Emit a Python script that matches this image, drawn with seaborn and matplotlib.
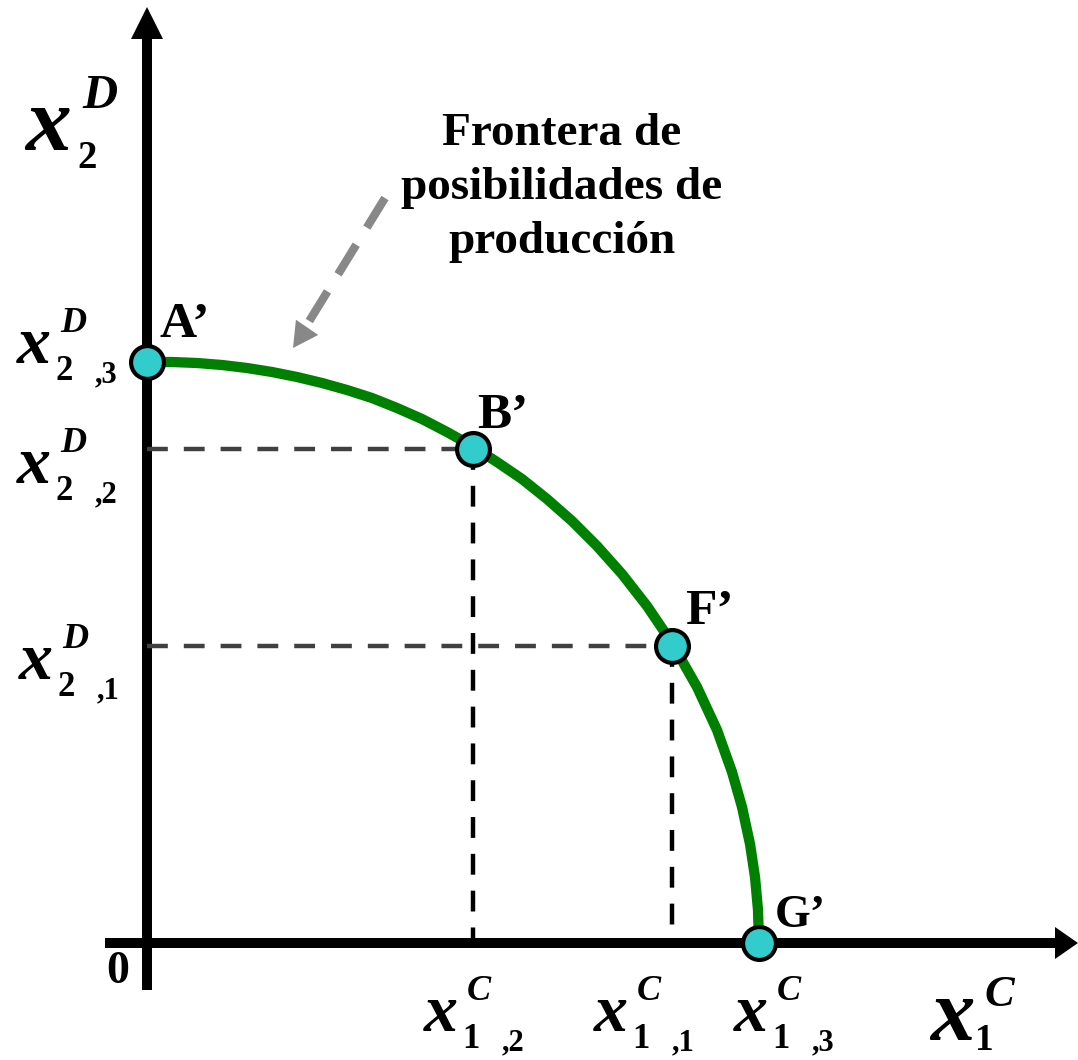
import pandas as pd
import seaborn as sns
import matplotlib.pyplot as plt

# frontier (1 unit = 100 px, origin at the axes corner)
frontier_x = [0.00, 0.25, 0.50, 0.75, 1.00, 1.25, 1.50, 1.75, 2.00, 2.25, 2.50, 2.75,
              3.00, 3.25, 3.50, 3.75, 4.00, 4.25, 4.50, 4.75, 5.00, 5.25, 5.50, 5.70,
              5.85, 5.95, 6.03, 6.08, 6.11, 6.12]
frontier_y = [5.81, 5.81, 5.80, 5.78, 5.75, 5.71, 5.66, 5.60, 5.53, 5.45, 5.35, 5.24,
              5.11, 4.97, 4.81, 4.64, 4.44, 4.22, 3.97, 3.69, 3.37, 3.00, 2.56, 2.13,
              1.71, 1.36, 0.99, 0.66, 0.33, 0.00]

point_names = ["A’", "B’", "F’", "G’"]
point_x = [0.00, 3.26, 5.25, 6.12]
point_y = [5.81, 4.94, 2.97, 0.00]

# dashed guides go from B' and F' to both axes
guide_names = ["B’", "F’"]
x_tick_index = [",2", ",1", ",3"]   # for B', F', G'
y_tick_index = [",3", ",2", ",1"]   # for A', B', F'

title = "Frontera de\nposibilidades de\nproducción"

PX = 0.72  # points per pixel at dpi 100
SERIF = "Liberation Serif"


def piece_label(ax, xy, off, pieces):
    # builds a sub/superscripted label out of separate bold pieces
    for text, dx, dy, size, style in pieces:
        ax.annotate(text, xy=xy, xytext=((off[0] + dx) * PX, (off[1] + dy) * PX),
                    textcoords="offset points", ha="left", va="baseline",
                    fontsize=size, fontweight="bold", fontstyle=style, color="black",
                    family=SERIF, annotation_clip=False, zorder=6)


def tick_pieces(sub, sup, idx):
    return [("x", 0, 0, 49, "italic"),
            (sup, 43, 31, 26, "italic"),
            (sub, 38, -17, 25, "normal"),
            (idx, 78, -19, 22, "normal")]


def main():
    sns.set_theme(style="white")
    plt.rcParams["lines.scale_dashes"] = False
    plt.rcParams["text.color"] = "black"

    fig = plt.figure(figsize=(10.78, 10.60), dpi=100)
    ax = fig.add_axes([0, 0, 1, 1])
    ax.set_xlim(-1.47, 9.31)
    ax.set_ylim(-1.17, 9.43)
    ax.axis("off")

    # axes with arrow heads
    ax.arrow(0, -0.47, 0, 9.83, width=0.10, head_width=0.32, head_length=0.32,
             length_includes_head=True, fc="black", ec="none", zorder=2)
    ax.arrow(-0.42, 0, 9.73, 0, width=0.10, head_width=0.32, head_length=0.23,
             length_includes_head=True, fc="black", ec="none", zorder=2)

    pts = pd.DataFrame({"name": point_names, "x": point_x, "y": point_y})

    # dashed guides
    for name in guide_names:
        row = pts[pts["name"] == name].iloc[0]
        ax.plot([0, row["x"]], [row["y"], row["y"]], color="#404040", lw=3.2,
                dashes=(15, 11.5), dash_capstyle="butt", zorder=3)
        ax.plot([row["x"], row["x"]], [row["y"], 0], color="black", lw=3.2,
                dashes=(15, 11.5), dash_capstyle="butt", zorder=3)

    frontier = pd.DataFrame({"x": frontier_x, "y": frontier_y})
    sns.lineplot(data=frontier, x="x", y="y", sort=False, estimator=None,
                 color="#008000", lw=7.4, solid_joinstyle="round",
                 solid_capstyle="butt", ax=ax, zorder=4)

    sns.scatterplot(data=pts, x="x", y="y", s=560, color="#33CCCC",
                    edgecolor="black", linewidth=3.0, ax=ax, zorder=5, legend=False)
    ax.axis("off")

    # point names
    name_off = [(13, 25), (4, 21), (13, 22), (16, 16)]
    name_size = [37, 37, 37, 33]
    for (_, row), off, size in zip(pts.iterrows(), name_off, name_size):
        ax.annotate(row["name"], xy=(row["x"], row["y"]),
                    xytext=(off[0] * PX, off[1] * PX), textcoords="offset points",
                    ha="left", va="baseline", fontsize=size, fontweight="bold",
                    color="black", family=SERIF, zorder=6)

    # y tick labels
    y_offs = [(-130, -1), (-130, -34), (-128, -33)]
    for yv, idx, off in zip(point_y[:3], y_tick_index, y_offs):
        piece_label(ax, (0, yv), off, tick_pieces("2", "D", idx))

    # x tick labels
    x_offs = [(-49, -88), (-78, -88), (-25, -88)]
    for xv, idx, off in zip(point_x[1:], x_tick_index, x_offs):
        piece_label(ax, (xv, 0), off, tick_pieces("1", "C", idx))

    # axis names
    piece_label(ax, (-1.22, 7.93), (0, 0),
                [("x", 0, 0, 66, "italic"), ("2", 52, -18, 28, "normal"),
                 ("D", 57, 42, 35, "italic")])
    piece_label(ax, (7.83, -0.97), (0, 0),
                [("x", 0, 0, 64, "italic"), ("1", 45, -10, 27, "normal"),
                 ("C", 54, 34, 32, "italic")])

    ax.text(-0.29, -0.29, "0", ha="center", va="center", fontsize=33,
            fontweight="bold", color="black", family=SERIF)

    # annotation for the frontier
    ax.text(4.15, 7.55, title, ha="center", va="center", fontsize=34,
            fontweight="bold", color="black", family=SERIF, linespacing=1.38)
    ax.plot([2.38, 1.58], [7.45, 6.15], color="#888888", lw=6,
            dashes=(25, 14.5), dash_capstyle="butt", zorder=3)
    ax.arrow(1.61, 6.17, -0.15, -0.22, width=0.0, head_width=0.27, head_length=0.25,
             length_includes_head=True, fc="#888888", ec="none", zorder=3)

    plt.savefig("out.png", dpi=100)


if __name__ == "__main__":
    main()
